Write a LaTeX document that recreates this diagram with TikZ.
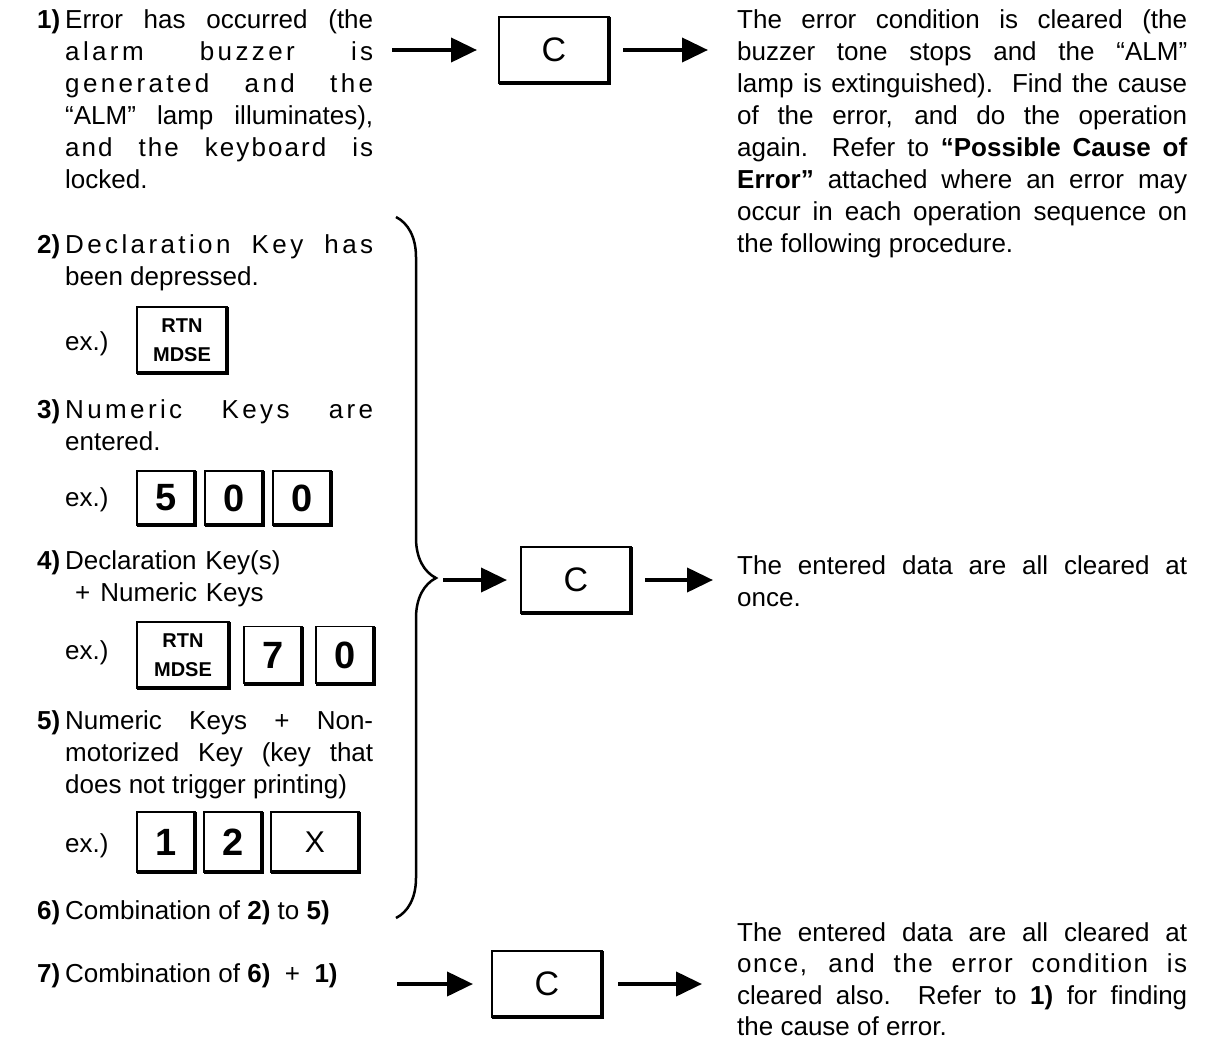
\documentclass[tikz,border=0pt]{standalone}
\usepackage{fontspec}
\setmainfont{Liberation Sans}
\usetikzlibrary{arrows.meta, positioning, decorations.pathreplacing}

\newcommand{\ls}[1]{{\addfontfeature{LetterSpace=13}#1}}

\begin{document}
\begin{tikzpicture}[
x=1pt, y=-1pt,
node distance=10pt,
txt/.style={anchor=base west, inner sep=0pt, align=justify, font=\fontsize{26}{32}\selectfont},
num/.style={anchor=base west, inner sep=0pt, font=\fontsize{26}{32}\selectfont\bfseries},
keycap/.style={draw, line width=1.3pt, inner sep=0pt, outer sep=0pt, minimum width=58pt, minimum height=54pt, font=\fontsize{38}{38}\selectfont\bfseries},
rtnkey/.style={keycap, minimum width=90pt, minimum height=66pt, align=center, font=\fontsize{20}{29}\selectfont\bfseries},
ckey/.style={keycap, minimum width=110pt, minimum height=66pt, font=\fontsize{34}{34}\selectfont},
arrow/.style={-{Triangle[length=26pt,width=24pt]}, line width=4pt},
shade/.style={line width=4pt},
brace/.style={decorate, decoration={brace, amplitude=40pt, aspect=0.515}, line width=2.5pt}
]
\useasboundingbox (0,0) rectangle (1205,1041);

% left column
\node[num] (n1) at (37,29) {1)};
\node[txt, text width=308pt] (t1) at (65,29) {Error has occurred (the\linebreak
\ls{alarm buzzer is}\linebreak
\ls{generated and the}\linebreak
“ALM” lamp illuminates),\linebreak
{\addfontfeature{LetterSpace=8}and the keyboard is}\linebreak
locked.};

\node[num] (n2) at (37,253) {2)};
\node[txt, text width=308pt] (t2) at (65,253) {\ls{Declaration Key has}\linebreak been depressed.};
\node[txt] (ex2) at (65,350) {ex.)};
\node[rtnkey] (rtn1) at (182,340) {RTN\\MDSE};

\node[num] (n3) at (37,418) {3)};
\node[txt, text width=308pt] (t3) at (65,418) {\ls{Numeric Keys are}\linebreak entered.};
\node[txt] (ex3) at (65,506) {ex.)};
\node[keycap] (k5) at (166,498) {5};
\node[keycap, right=of k5] (k0a) {0};
\node[keycap, right=of k0a] (k0b) {0};

\node[num] (n4) at (37,569) {4)};
\node[txt, text width=308pt, align=left] (t4) at (65,569) {Declaration Key(s)\\\hspace*{10pt}+\hspace{10pt}Numeric Keys};
\node[txt] (ex4) at (65,659) {ex.)};
\node[rtnkey, minimum width=92pt] (rtn2) at (183,655) {RTN\\MDSE};
\node[keycap, minimum height=57pt, right=15pt of rtn2] (k7) {7};
\node[keycap, minimum height=57pt, right=14pt of k7] (k0c) {0};

\node[num] (n5) at (37,729) {5)};
\node[txt, text width=308pt] (t5) at (65,729) {Numeric Keys + Non-\linebreak motorized Key (key that\linebreak does not trigger printing)};
\node[txt] (ex5) at (65,852) {ex.)};
\node[keycap, minimum height=60pt] (k1) at (166,842) {1};
\node[keycap, minimum height=60pt, right=9pt of k1] (k2) {2};
\node[keycap, minimum height=60pt, minimum width=88pt, right=9pt of k2, font=\fontsize{30}{30}\selectfont] (kx) {X};

\node[num] (n6) at (37,919) {6)};
\node[txt] (t6) at (65,919) {Combination of \textbf{2)} to \textbf{5)}};

\node[num] (n7) at (37,982) {7)};
\node[txt] (t7) at (65,982) {Combination of \textbf{6)}\ \ +\ \ \textbf{1)}};

% clear keys
\node[ckey] (c1) at (554,50) {C};
\node[ckey] (c2) at (576,580) {C};
\node[ckey] (c3) at (547,984) {C};

% key shadows
\foreach \k in {rtn1,k5,k0a,k0b,rtn2,k7,k0c,k1,k2,kx,c1,c2,c3}
  \draw[shade] (\k.north east) -- (\k.south east) -- (\k.south west);

% brace
\draw[brace] (396,217) -- (396,918);

% arrows
\coordinate (a1) at (392,50);
\coordinate (b1) at (708,50);
\coordinate (a2) at (443,580);
\coordinate (b2) at (713,580);
\coordinate (a3) at (397,984);
\coordinate (b3) at (702,984);
\draw[arrow, shorten >=22pt] (a1) -- (c1);
\draw[arrow, shorten <=14pt] (c1) -- (b1);
\draw[arrow, shorten >=14pt] (a2) -- (c2);
\draw[arrow, shorten <=14pt] (c2) -- (b2);
\draw[arrow, shorten >=19pt] (a3) -- (c3);
\draw[arrow, shorten <=16pt] (c3) -- (b3);

% right column
\node[txt, text width=450pt] (r1) at (737,29) {The error condition is cleared (the\linebreak
buzzer tone stops and the “ALM”\linebreak
lamp is extinguished).\ \ Find the cause\linebreak
of the error, and do the operation\linebreak
again.\ \ Refer to \textbf{“Possible Cause of\linebreak
Error”} attached where an error may\linebreak
occur in each operation sequence on\linebreak
the following procedure.};

\node[txt, text width=450pt] (r2) at (737,574) {The entered data are all cleared at\linebreak once.};

\node[txt, text width=450pt, font=\fontsize{26}{31.5}\selectfont] (r3) at (737,941) {The entered data are all cleared at\linebreak
{\addfontfeature{LetterSpace=6}once, and the error condition is}\linebreak
cleared also.\ \ Refer to \textbf{1)} for finding\linebreak
the cause of error.};

\end{tikzpicture}
\end{document}
